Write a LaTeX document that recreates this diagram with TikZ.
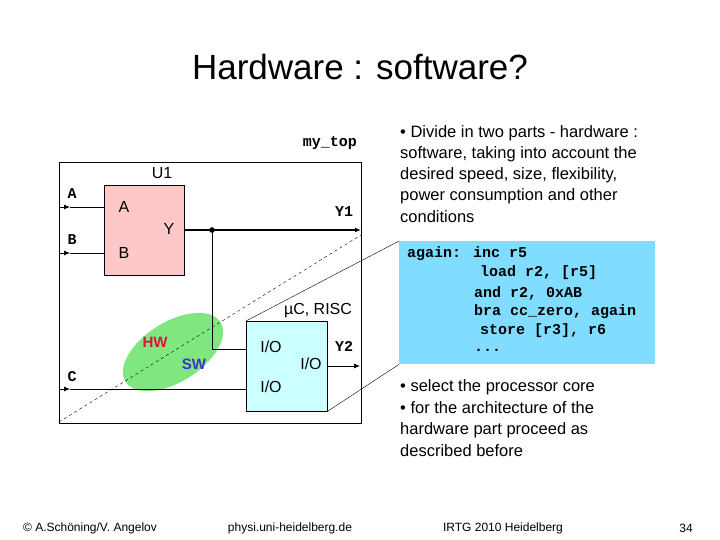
\documentclass[tikz,border=0pt]{standalone}
\usepackage{fontspec}
\setmainfont{Liberation Sans}
\newfontfamily\mono{Liberation Mono}
\usetikzlibrary{shapes.geometric,arrows.meta}
\begin{document}
\begin{tikzpicture}[x=1pt,y=-1pt,
  wire/.style={line width=0.8pt},
  tip/.style={-{Latex[length=6pt,width=5pt]}},
  lbl/.style={inner sep=0pt,font=\fontsize{16}{16}\selectfont},
  mlbl/.style={inner sep=0pt,font=\mono\bfseries\fontsize{15}{15}\selectfont},
  body/.style={inner sep=0pt,anchor=west,font=\fontsize{16.5}{16.5}\selectfont},
  code/.style={inner sep=0pt,anchor=west,font=\mono\bfseries\fontsize{15}{15}\selectfont},
  foot/.style={inner sep=0pt,font=\fontsize{12}{12}\selectfont}]
\useasboundingbox (0,0) rectangle (720,540);
\fill[white] (0,0) rectangle (720,540);
\node[inner sep=0pt,font=\fontsize{35}{35}\selectfont] (title) at (360,67) {Hardware : software?};
% outer box
\draw[wire] (59,162) rectangle (361,423);
\node[mlbl,anchor=east] (mytop) at (357,143) {my\_top};
% U1
\node[draw,fill={rgb,255:red,255;green,200;blue,200},minimum width=80,minimum height=90,anchor=north west,inner sep=0pt] (u1) at (104,185) {};
\node[lbl] (u1l) at (162,173) {U1};
\node[lbl] (ua) at (124,207) {A};
\node[lbl] (ub) at (124,253) {B};
\node[lbl] (uy) at (169,229) {Y};
\node[mlbl] (pa) at (72,194) {A};
\node[mlbl] (pb) at (72,240) {B};
\node[mlbl] (pc) at (72,377) {C};
\node[mlbl] (py1) at (344,212) {Y1};
\node[mlbl] (py2) at (344,346) {Y2};
\coordinate (ia) at (59,207); \coordinate (ib) at (59,253); \coordinate (ic) at (59,389);
\coordinate (ya) at (104,207); \coordinate (yb) at (104,253);
\draw[wire,tip] (ia) -- (70,207); \draw[wire] (70,207) -- (ya);
\draw[wire,tip] (ib) -- (70,253); \draw[wire] (70,253) -- (yb);
% dashed
\coordinate (d1) at (59,422); \coordinate (d2) at (361,235);
% ellipse
\node[ellipse,fill={rgb,255:red,128;green,230;blue,128},minimum width=112,minimum height=60,rotate=32,inner sep=0pt] (ell) at (173,352) {};
\draw[dashed,thin] (d1) -- (d2);
\node[inner sep=0pt,font=\bfseries\fontsize{15}{15}\selectfont,text={rgb,255:red,220;green,20;blue,60}] (hw) at (155,342) {HW};
\node[inner sep=0pt,font=\bfseries\fontsize{15}{15}\selectfont,text={rgb,255:red,60;green,50;blue,200}] (sw) at (194,364) {SW};
% uC
\node[draw,fill={rgb,255:red,204;green,255;blue,255},minimum width=81,minimum height=90,anchor=north west,inner sep=0pt] (uc) at (246,321) {};
\node[lbl] (ucl) at (318,311) {µC, RISC};
\node[lbl] (io1) at (271,347) {I/O};
\node[lbl] (io2) at (311,364) {I/O};
\node[lbl] (io3) at (271,387) {I/O};
\coordinate (dot) at (212,230);
\draw[line width=2pt] (u1.east |- dot) -- (dot);
\draw[line width=2pt,tip] (dot) -- (361,230);
\fill (dot) circle (2.8);
\draw[wire] (dot) -- (212,349) -- (246,349);
\draw[wire,tip] (ic) -- (70,389); \draw[wire] (70,389) -- (246,389);
\draw[wire,tip] (327,366) -- (360,366);
% code box
\node[fill={rgb,255:red,128;green,221;blue,255},minimum width=256,minimum height=123,anchor=north west,inner sep=0pt] (cb) at (399,241) {};
\draw[thin] (uc.north west) -- (cb.north west);
\draw[thin] (uc.south east) -- (cb.south west);
\node[code] (c1) at (407,254) {again: inc r5};
\node[code] (c2) at (480,273) {load r2, [r5]};
\node[code] (c3) at (474,293) {and r2, 0xAB};
\node[code] (c4) at (474,312) {bra cc\_zero, again};
\node[code] (c5) at (480,331) {store [r3], r6};
\node[code] (c6) at (474,350) {...};
% right text
\node[body] (t1) at (400,133) {• Divide in two parts - hardware :};
\node[body] (t2) at (400,154) {software, taking into account the};
\node[body] (t3) at (400,175) {desired speed, size, flexibility,};
\node[body] (t4) at (400,196) {power consumption and other};
\node[body] (t5) at (400,217) {conditions};
\node[body] (b1) at (400,387) {• select the processor core};
\node[body] (b2) at (400,408) {• for the architecture of the};
\node[body] (b3) at (400,430) {hardware part proceed as};
\node[body] (b4) at (400,451) {described before};
% footer
\node[foot] (f1) at (90,528) {© A.Schöning/V. Angelov};
\node[foot] (f2) at (290,528) {physi.uni-heidelberg.de};
\node[foot] (f3) at (503,528) {IRTG 2010 Heidelberg};
\node[foot] (f4) at (686,528) {34};
\end{tikzpicture}
\end{document}
